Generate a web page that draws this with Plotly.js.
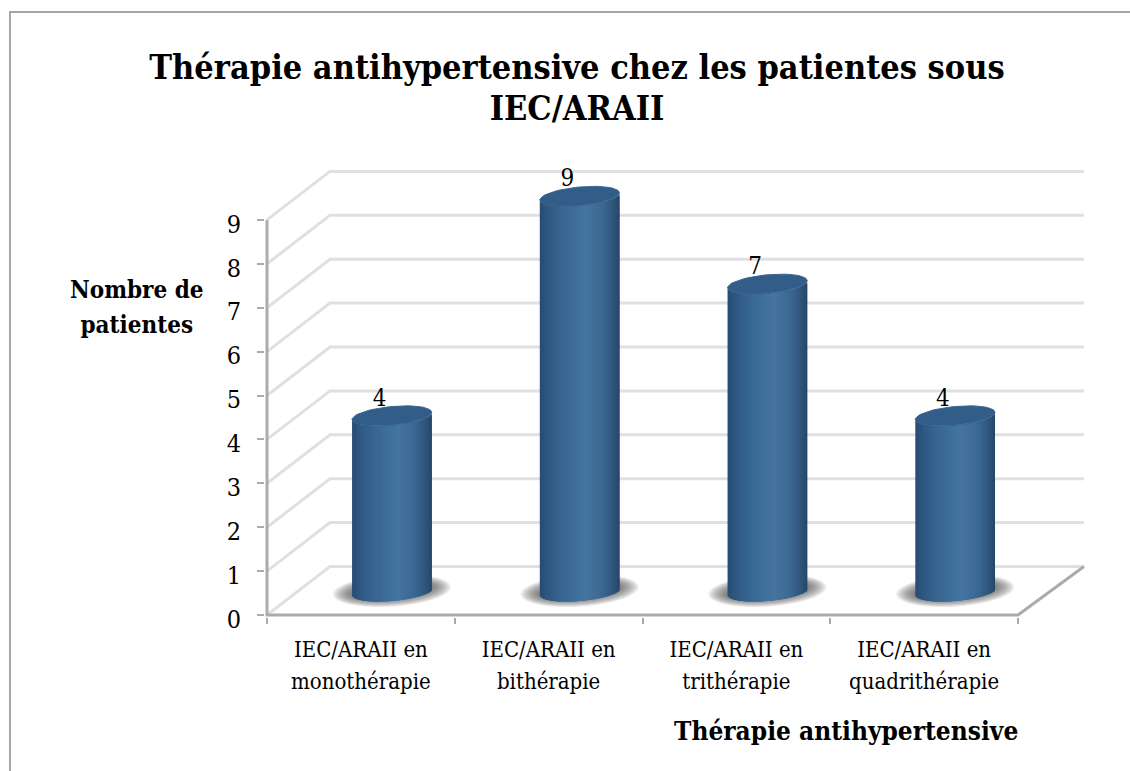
<!DOCTYPE html>
<html><head><meta charset="utf-8">
<script src="https://cdn.plot.ly/plotly-3.0.1.min.js"></script>
<style>html,body{margin:0;padding:0;background:#fff;overflow:hidden}#c{width:1130px;height:771px}</style>
</head><body><div id="c"></div>
<script>
const categories = ["IEC/ARAII en<br>monothérapie","IEC/ARAII en<br>bithérapie","IEC/ARAII en<br>trithérapie","IEC/ARAII en<br>quadrithérapie"];
const patientes = [4, 9, 7, 4];
const yTicks = [0,1,2,3,4,5,6,7,8,9];
const titleText = "Thérapie antihypertensive chez les patientes sous<br>IEC/ARAII";
const yTitleText = "Nombre de<br>patientes";
const xTitleText = "Thérapie antihypertensive";

const FONT = '"DejaVu Serif Condensed","DejaVu Serif",serif';
const W = 1130, H = 771;
// pixel calibration of the axes
const pxX = 187.75, pxY = 43.9, pad = 2;
const left = 267, floorY = 615, rightEnd = 1084, backTop = 172;
const x0 = -0.5, xFront = 3.5, xEnd = x0 + (rightEnd-left)/pxX;
const depthX = 63/pxX, depthY = 48.5/pxY;
const yTop = (floorY-backTop)/pxY;
const mL = left-pad, mR = W-rightEnd-pad, mT = backTop-pad, mB = H-floorY-pad;
const plotW = W-mL-mR, plotH = H-mT-mB;
const xr = [x0-pad/pxX, xEnd+pad/pxX], yr = [-pad/pxY, yTop+pad/pxY];
const paperX = p => (p-mL)/plotW, paperY = p => (H-mB-p)/plotH;

// cylinder geometry (data units)
const shiftX = 0.165, baseY = 0.535;
const a = 39.8/pxX, b = 9.4/pxY, tilt = 3.6/pxY;
const ell = (cx,cy,ra,rb,k,n=60) => {
  const xs=[],ys=[];
  for(let i=0;i<=n;i++){const t=2*Math.PI*i/n;xs.push(cx+ra*Math.cos(t));ys.push(cy+rb*Math.sin(t)+k*Math.cos(t));}
  return [xs,ys];
};
const toPath = ([xs,ys]) => 'M'+xs.map((v,i)=>v+','+ys[i]).join('L')+'Z';

const stops = [[-1,[40,76,114]],[-0.82,[46,87,128]],[-0.45,[56,102,146]],[0.15,[69,117,160]],[0.55,[60,105,148]],[0.85,[47,85,124]],[1,[39,70,104]]];
const shade = u => {
  for(let i=1;i<stops.length;i++){ if(u<=stops[i][0]){
    const [u0,c0]=stops[i-1],[u1,c1]=stops[i],f=(u-u0)/(u1-u0);
    return 'rgb('+c0.map((c,j)=>Math.round(c+(c1[j]-c)*f)).join(',')+')';
  }}
  return 'rgb(39,70,104)';
};

const traces = [];
const N = 80, step = 2*a/N;
for(let i=0;i<N;i++){
  const uL = -1+2*i/N, u = uL+1/N;
  const low = baseY - b*Math.sqrt(1-u*u) + tilt*u;
  // each strip overlaps the next ones, which paint over it, so no background leaks between strips
  const wid = Math.min(3*step, (1-uL)*a);
  traces.push({type:'bar',x:patientes.map((_,c)=>c+shiftX+a*uL+wid/2),y:patientes,base:patientes.map(()=>low),
    width:patientes.map(()=>wid),opacity:1,marker:{color:shade(u),opacity:1,line:{width:0}},hoverinfo:'skip',showlegend:false,cliponaxis:false});
}
patientes.forEach((v,c)=>{
  const [xs,ys]=ell(c+shiftX,baseY+v,a,b,tilt);
  traces.push({type:'scatter',mode:'lines',x:xs,y:ys,fill:'toself',fillcolor:'#325d88',line:{color:'#3a6692',width:1},hoverinfo:'skip',showlegend:false,cliponaxis:false});
});
traces.push({type:'scatter',mode:'text',x:patientes.map((_,c)=>c+0.1),y:patientes.map(v=>v+0.9),text:patientes.map(String),
  textposition:'middle center',textfont:{family:FONT,size:24,color:'#000'},hoverinfo:'skip',showlegend:false,cliponaxis:false});

// walls, floor and axis lines
const gridPath = yTicks.map(v=>`M${x0},${v}L${x0+depthX},${v+depthY}L${xEnd},${v+depthY}`).join('');
const shapes = [
  {type:'path',layer:'below',xref:'x',yref:'y',path:gridPath,line:{color:'#e0e0e0',width:3}},
  {type:'path',layer:'below',xref:'x',yref:'y',path:`M${x0},9L${x0},0L${xFront},0L${xEnd},${depthY}`,line:{color:'#ababab',width:3}},
];
patientes.forEach((v,c)=>{
  const S=10;
  for(let s=0;s<S;s++){
    const g=1-s/S;
    shapes.push({type:'path',layer:'below',xref:'x',yref:'y',
      path:toPath(ell(c+shiftX,baseY+0.02,(40+19*g)/pxX,(8+8*g)/pxY,tilt)),
      fillcolor:'rgba(80,80,80,0.1)',line:{width:0}});
  }
});
// outer frame of the picture
shapes.push({type:'path',xref:'paper',yref:'paper',
  path:`M${paperX(10)},${paperY(772)}L${paperX(10)},${paperY(12)}L${paperX(1131)},${paperY(12)}`,line:{color:'#a6a6a6',width:2}});

const layout = {
  width:W,height:H,margin:{l:mL,r:mR,t:mT,b:mB,pad:0},
  paper_bgcolor:'#fff',plot_bgcolor:'rgba(0,0,0,0)',showlegend:false,barmode:'overlay',
  font:{family:FONT,color:'#000'},
  title:{text:titleText.split('<br>').map(s=>`<span style="font-size:34px">${s}</span>`).join('<br>'),
    font:{family:FONT,size:31.5,weight:700,color:'#000'},x:577/W,xanchor:'center',y:1-79/H,yanchor:'middle'},
  xaxis:{range:xr,showgrid:false,zeroline:false,showline:false,
    tickmode:'array',tickvals:categories.map((_,i)=>i),
    ticktext:categories.map(s=>s.split('<br>').map(t=>`<span style="font-size:22px">${t}</span>`).join('<br>')),
    ticks:'',ticklabelstandoff:14,tickfont:{family:FONT,size:24.6,color:'#000'},
    minor:{tickmode:'array',tickvals:[-0.5,0.5,1.5,2.5,3.5],ticks:'outside',ticklen:6,tickwidth:2,tickcolor:'#ababab',showgrid:false}},
  yaxis:{range:yr,showgrid:false,zeroline:false,showline:false,
    tickmode:'array',tickvals:yTicks,ticks:'outside',ticklen:7,tickwidth:2,tickcolor:'#ababab',
    ticklabelstandoff:11,ticklabelshift:4,tickfont:{family:FONT,size:25,color:'#000'}},
  shapes,
  annotations:[
    {xref:'paper',yref:'paper',x:paperX(137),y:paperY(307),xanchor:'center',yanchor:'middle',showarrow:false,align:'center',
     text:yTitleText.split('<br>').map(s=>`<span style="font-size:24px">${s}</span>`).join('<br>'),font:{family:FONT,size:27,weight:700,color:'#000'}},
    {xref:'paper',yref:'paper',x:paperX(1020),y:paperY(731),xanchor:'right',yanchor:'middle',showarrow:false,
     text:xTitleText,font:{family:FONT,size:26,weight:700,color:'#000'}}
  ]
};
Plotly.newPlot('c',traces,layout,{displayModeBar:false,staticPlot:true});
</script></body></html>
